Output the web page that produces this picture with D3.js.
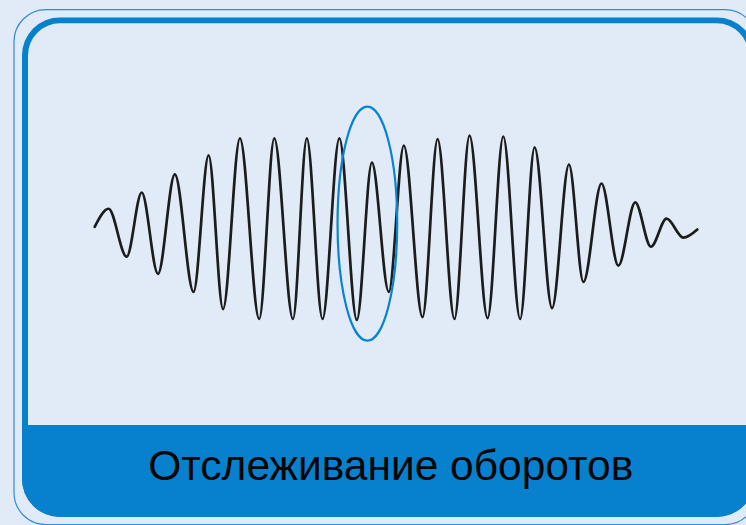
<!DOCTYPE html>
<html>
<head>
<meta charset="utf-8">
<script src="https://cdn.jsdelivr.net/npm/d3@7"></script>
<style>
  html, body { margin: 0; padding: 0; background: #e0ebf7; }
  svg { display: block; }
</style>
</head>
<body>
<svg id="chart" width="746" height="525"></svg>
<script>
// Vibration signal: successive turning points (time, normalised amplitude)
const signalTime = [
  0, 2.3, 5.3, 7.8, 10.5, 13.3, 16.4, 18.9, 21.3, 24.1,
  27.3, 29.8, 32.9, 35.2, 37.8, 40.6, 43.5, 46.0, 48.8, 51.3,
  54.4, 56.9, 59.7, 62.2, 65.2, 67.8, 70.6, 73.0, 75.9, 78.7,
  81.1, 84.1, 86.9, 89.7, 92.3, 94.9, 97.7, 100
];
const signalAmp = [
  0.02, 0.22, -0.31, 0.40, -0.50, 0.60, -0.70, 0.81, -0.89, 1.00,
  -1.00, 1.00, -1.00, 1.00, -1.00, 1.00, -1.01, 0.73, -0.70, 0.92,
  -0.98, 0.99, -1.00, 1.03, -0.99, 1.02, -1.00, 0.90, -0.88, 0.71,
  -0.59, 0.50, -0.41, 0.29, -0.20, 0.11, -0.10, -0.01
];
// Tracked revolution window (time span and amplitude span)
const trackedTime = [40.3, 50.2];
const trackedAmp = [-1.24, 1.35];
const caption = "Отслеживание оборотов";

const W = 746, H = 525;
const BLUE = "#0781cd", BG = "#e0ebf7";
const svg = d3.select("#chart");

svg.append("rect").attr("width", W).attr("height", H).attr("fill", BG);

// thin outer frame
svg.append("rect")
  .attr("x", 14).attr("y", 9.6).attr("width", 743).attr("height", 515)
  .attr("rx", 32).attr("ry", 32)
  .attr("fill", "none").attr("stroke", "#2f8dd2").attr("stroke-width", 1.2);

// inner panel with thick border and caption band
const panel = { x: 22, y: 17.3, w: 732.7, h: 499.7, r: 38, border: 6, bandTop: 425 };
const defs = svg.append("defs");
defs.append("clipPath").attr("id", "panelClip")
  .append("rect")
  .attr("x", panel.x).attr("y", panel.y).attr("width", panel.w).attr("height", panel.h)
  .attr("rx", panel.r).attr("ry", panel.r);

const pg = svg.append("g").attr("clip-path", "url(#panelClip)");
pg.append("rect")
  .attr("x", panel.x).attr("y", panel.y).attr("width", panel.w).attr("height", panel.h)
  .attr("fill", BLUE);
pg.append("rect")
  .attr("x", panel.x + panel.border).attr("y", panel.y + panel.border)
  .attr("width", panel.w - 2 * panel.border)
  .attr("height", panel.bandTop - panel.y - panel.border + 60)
  .attr("rx", panel.r - panel.border).attr("ry", panel.r - panel.border)
  .attr("fill", BG);
pg.append("rect")
  .attr("x", panel.x).attr("y", panel.bandTop)
  .attr("width", panel.w).attr("height", panel.y + panel.h - panel.bandTop)
  .attr("fill", BLUE);

// signal scales
const x = d3.scaleLinear().domain([0, 100]).range([94.7, 697.3]);
const y = d3.scaleLinear().domain([-1, 1]).range([319, 138.3]);

const pts = signalTime.map((t, i) => ({ t, a: signalAmp[i] }));
const line = d3.line()
  .x(d => x(d.t)).y(d => y(d.a))
  .curve(d3.curveMonotoneX);

svg.append("path")
  .datum(pts)
  .attr("d", line)
  .attr("fill", "none")
  .attr("stroke", "#1c1c1c")
  .attr("stroke-width", 2.7)
  .attr("stroke-linejoin", "round")
  .attr("stroke-linecap", "round");

// highlight ellipse around the tracked revolution
svg.append("ellipse")
  .attr("cx", (x(trackedTime[0]) + x(trackedTime[1])) / 2)
  .attr("cy", (y(trackedAmp[0]) + y(trackedAmp[1])) / 2)
  .attr("rx", Math.abs(x(trackedTime[1]) - x(trackedTime[0])) / 2)
  .attr("ry", Math.abs(y(trackedAmp[1]) - y(trackedAmp[0])) / 2)
  .attr("fill", "none")
  .attr("stroke", "#0a84d0")
  .attr("stroke-width", 2.2);

// caption
const txt = svg.append("text")
  .attr("x", 390.8).attr("y", 480)
  .attr("text-anchor", "middle")
  .attr("font-family", "'Liberation Sans', Arial, sans-serif")
  .attr("font-size", 33)
  .attr("fill", "#050505")
  .text(caption);
const len = txt.node().getComputedTextLength();
txt.attr("font-size", 33 * 485 / len);
</script>
</body>
</html>
